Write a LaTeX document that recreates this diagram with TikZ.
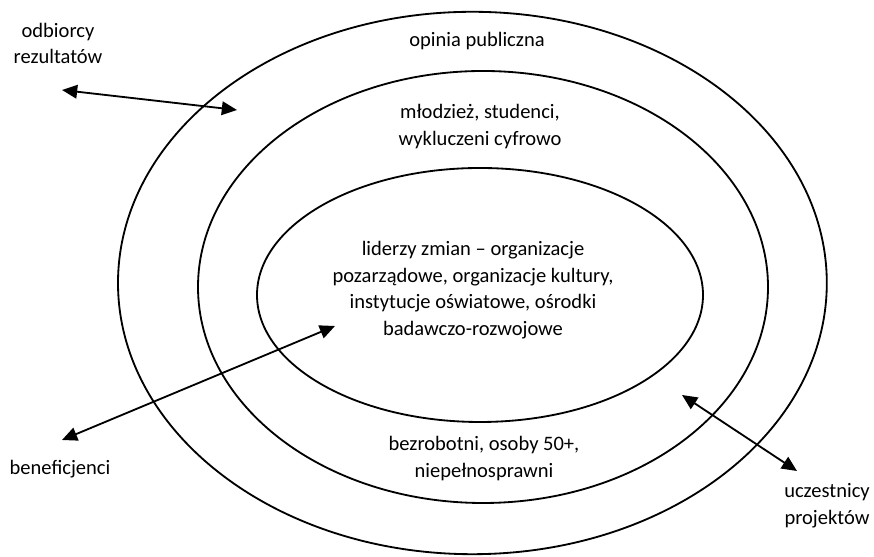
\documentclass[tikz,border=0pt]{standalone}
\usepackage{fontspec}
\setmainfont{Carlito}
\usetikzlibrary{arrows.meta}
\tikzset{
  lbl/.style={align=center,inner sep=0pt,font=\fontsize{14.6}{19}\selectfont},
}
\begin{document}
\begin{tikzpicture}[>={Triangle[length=0.38cm,width=0.34cm]},line width=1.3pt]
\useasboundingbox (0,0) rectangle (21.85,13.925);
% kregi
\draw (11.81,6.85) ellipse [x radius=8.86,y radius=6.78];
\draw (12.075,6.75) ellipse [x radius=7.125,y radius=5.4];
\draw (12.0,6.55) ellipse [x radius=5.575,y radius=3.175];
% opisy w kregach
\node[lbl] (opinia) at (11.925,12.9) {opinia publiczna};
\node[lbl] (mlodziez) at (12.0,10.76) {młodzież, studenci,\\wykluczeni cyfrowo};
\node[lbl] (liderzy) at (11.825,6.675) {liderzy zmian – organizacje\\pozarządowe, organizacje kultury,\\instytucje oświatowe, ośrodki\\badawczo-rozwojowe};
\node[lbl] (bezrobotni) at (12.1,2.46) {bezrobotni, osoby 50+,\\niepełnosprawni};
% opisy zewnetrzne
\node[lbl] (odbiorcy) at (1.45,12.84) {odbiorcy\\rezultatów};
\node[lbl] (beneficjenci) at (1.5,2.2) {beneficjenci};
\node[lbl] (uczestnicy) at (20.675,1.275) {uczestnicy\\projektów};
% strzalki
\coordinate (o1) at (1.55,11.675);
\coordinate (o2) at (5.925,11.175);
\coordinate (b1) at (1.55,2.925);
\coordinate (b2) at (8.375,5.775);
\coordinate (u1) at (17.05,4.05);
\coordinate (u2) at (19.925,2.15);
\draw[<->] (o1)--(o2);
\draw[<->] (b1)--(b2);
\draw[<->] (u1)--(u2);
\end{tikzpicture}
\end{document}
